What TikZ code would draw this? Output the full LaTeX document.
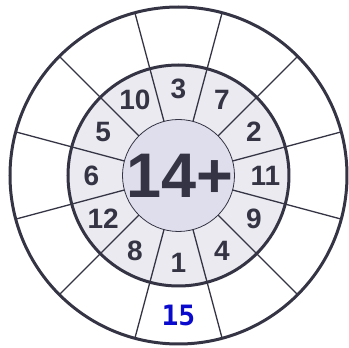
\documentclass[tikz,border=0pt]{standalone}
\usepackage{fontspec}
\setmainfont{Liberation Sans}
\newfontfamily\answerfont{DejaVu Sans Mono}
\definecolor{ink}{HTML}{343445}
\definecolor{band}{HTML}{EAEAF0}
\definecolor{hub}{HTML}{DEDEEC}
\definecolor{answer}{HTML}{0A0ACF}

\begin{document}
\begin{tikzpicture}[x=1pt,y=1pt,
    num/.style={text=ink,font=\fontsize{28}{28}\selectfont\bfseries}]
  \useasboundingbox (-178.5,-172.5) rectangle (170.5,175.5);
  % rings
  \fill[white] (0,0) circle[radius=168.5pt];
  \fill[band] (0,0) circle[radius=110.5pt];
  \foreach \a in {15,45,...,345}
    \draw[ink,line width=1.3pt] (\a:56pt) -- (\a:168.5pt);
  \draw[ink,line width=3pt] (0,0) circle[radius=168.5pt];
  \draw[ink,line width=3pt] (0,0) circle[radius=110.5pt];
  \draw[ink,line width=0.8pt,fill=hub] (0,0) circle[radius=56pt];

  \node[text=ink,font=\fontsize{63}{63}\selectfont\bfseries] (hubnum) at (1.5,0) {14+};
  \foreach \n [count=\i from 0] in {3,7,2,11,9,4,1,8,12,6,5,10}
    \node[num] (n\i) at ({90-30*\i}:87pt) {\n};
  \node[text=answer,font=\fontsize{28}{28}\selectfont\answerfont\bfseries] (ans) at (-90:140pt) {15};
\end{tikzpicture}
\end{document}
